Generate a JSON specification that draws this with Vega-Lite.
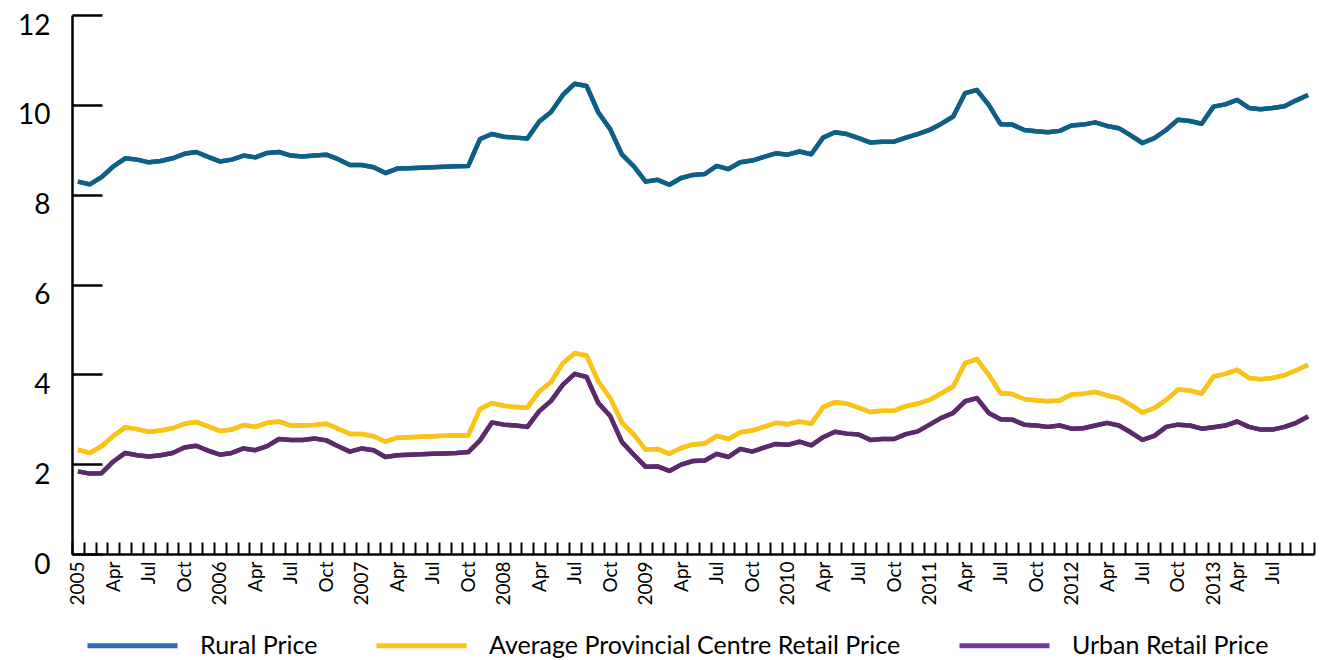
{
  "$schema": "https://vega.github.io/schema/vega-lite/v6.json",
  "width": 1242,
  "height": 539,
  "autosize": {"type": "none"},
  "padding": {"left": 72, "top": 15, "right": 6, "bottom": 106},
  "background": "white",
  "config": {
    "view": {"stroke": null},
    "font": "Lato",
    "axis": {"grid": false, "domainColor": "black", "tickColor": "black", "labelColor": "black", "labelFont": "Lato"}
  },
  "data": {
    "values": [
      {"m":"2005-01","R":8.29,"A":2.32,"U":1.84},
      {"m":"2005-02","R":8.23,"A":2.25,"U":1.79},
      {"m":"2005-03","R":8.39,"A":2.40,"U":1.80},
      {"m":"2005-04","R":8.63,"A":2.63,"U":2.06},
      {"m":"2005-05","R":8.81,"A":2.82,"U":2.25},
      {"m":"2005-06","R":8.78,"A":2.78,"U":2.20},
      {"m":"2005-07","R":8.72,"A":2.72,"U":2.17},
      {"m":"2005-08","R":8.75,"A":2.75,"U":2.20},
      {"m":"2005-09","R":8.81,"A":2.80,"U":2.25},
      {"m":"2005-10","R":8.91,"A":2.90,"U":2.37},
      {"m":"2005-11","R":8.95,"A":2.94,"U":2.41},
      {"m":"2005-12","R":8.84,"A":2.84,"U":2.30},
      {"m":"2006-01","R":8.74,"A":2.74,"U":2.21},
      {"m":"2006-02","R":8.78,"A":2.77,"U":2.25},
      {"m":"2006-03","R":8.87,"A":2.87,"U":2.35},
      {"m":"2006-04","R":8.83,"A":2.83,"U":2.31},
      {"m":"2006-05","R":8.93,"A":2.92,"U":2.40},
      {"m":"2006-06","R":8.95,"A":2.95,"U":2.56},
      {"m":"2006-07","R":8.87,"A":2.86,"U":2.54},
      {"m":"2006-08","R":8.85,"A":2.86,"U":2.54},
      {"m":"2006-09","R":8.87,"A":2.87,"U":2.57},
      {"m":"2006-10","R":8.89,"A":2.90,"U":2.53},
      {"m":"2006-11","R":8.79,"A":2.79,"U":2.40},
      {"m":"2006-12","R":8.66,"A":2.67,"U":2.28},
      {"m":"2007-01","R":8.66,"A":2.67,"U":2.35},
      {"m":"2007-02","R":8.61,"A":2.62,"U":2.31},
      {"m":"2007-03","R":8.48,"A":2.50,"U":2.16},
      {"m":"2007-04","R":8.58,"A":2.59,"U":2.20},
      {"m":"2007-05","R":8.59,"A":2.60,"U":2.21},
      {"m":"2007-06","R":8.60,"A":2.61,"U":2.22},
      {"m":"2007-07","R":8.61,"A":2.62,"U":2.23},
      {"m":"2007-08","R":8.62,"A":2.63,"U":2.24},
      {"m":"2007-09","R":8.63,"A":2.64,"U":2.25},
      {"m":"2007-10","R":8.64,"A":2.64,"U":2.27},
      {"m":"2007-11","R":9.24,"A":3.23,"U":2.53},
      {"m":"2007-12","R":9.35,"A":3.36,"U":2.93},
      {"m":"2008-01","R":9.29,"A":3.30,"U":2.88},
      {"m":"2008-02","R":9.27,"A":3.27,"U":2.86},
      {"m":"2008-03","R":9.25,"A":3.26,"U":2.83},
      {"m":"2008-04","R":9.63,"A":3.62,"U":3.18},
      {"m":"2008-05","R":9.84,"A":3.83,"U":3.41},
      {"m":"2008-06","R":10.22,"A":4.25,"U":3.77},
      {"m":"2008-07","R":10.47,"A":4.47,"U":4.01},
      {"m":"2008-08","R":10.42,"A":4.42,"U":3.94},
      {"m":"2008-09","R":9.83,"A":3.84,"U":3.36},
      {"m":"2008-10","R":9.46,"A":3.47,"U":3.07},
      {"m":"2008-11","R":8.89,"A":2.92,"U":2.49},
      {"m":"2008-12","R":8.63,"A":2.66,"U":2.21},
      {"m":"2009-01","R":8.29,"A":2.32,"U":1.94},
      {"m":"2009-02","R":8.33,"A":2.34,"U":1.95},
      {"m":"2009-03","R":8.22,"A":2.23,"U":1.85},
      {"m":"2009-04","R":8.37,"A":2.36,"U":1.99},
      {"m":"2009-05","R":8.44,"A":2.44,"U":2.07},
      {"m":"2009-06","R":8.46,"A":2.46,"U":2.08},
      {"m":"2009-07","R":8.64,"A":2.63,"U":2.23},
      {"m":"2009-08","R":8.57,"A":2.56,"U":2.16},
      {"m":"2009-09","R":8.72,"A":2.71,"U":2.34},
      {"m":"2009-10","R":8.76,"A":2.75,"U":2.28},
      {"m":"2009-11","R":8.84,"A":2.83,"U":2.37},
      {"m":"2009-12","R":8.92,"A":2.92,"U":2.45},
      {"m":"2010-01","R":8.89,"A":2.89,"U":2.43},
      {"m":"2010-02","R":8.96,"A":2.95,"U":2.50},
      {"m":"2010-03","R":8.90,"A":2.90,"U":2.42},
      {"m":"2010-04","R":9.27,"A":3.27,"U":2.60},
      {"m":"2010-05","R":9.39,"A":3.38,"U":2.72},
      {"m":"2010-06","R":9.35,"A":3.35,"U":2.68},
      {"m":"2010-07","R":9.26,"A":3.26,"U":2.66},
      {"m":"2010-08","R":9.16,"A":3.16,"U":2.54},
      {"m":"2010-09","R":9.18,"A":3.19,"U":2.56},
      {"m":"2010-10","R":9.18,"A":3.19,"U":2.56},
      {"m":"2010-11","R":9.27,"A":3.29,"U":2.67},
      {"m":"2010-12","R":9.35,"A":3.35,"U":2.73},
      {"m":"2011-01","R":9.44,"A":3.43,"U":2.88},
      {"m":"2011-02","R":9.58,"A":3.58,"U":3.03},
      {"m":"2011-03","R":9.74,"A":3.73,"U":3.14},
      {"m":"2011-04","R":10.26,"A":4.25,"U":3.40},
      {"m":"2011-05","R":10.33,"A":4.34,"U":3.47},
      {"m":"2011-06","R":10.00,"A":3.99,"U":3.14},
      {"m":"2011-07","R":9.57,"A":3.58,"U":3.00},
      {"m":"2011-08","R":9.56,"A":3.56,"U":2.99},
      {"m":"2011-09","R":9.44,"A":3.45,"U":2.88},
      {"m":"2011-10","R":9.41,"A":3.42,"U":2.86},
      {"m":"2011-11","R":9.39,"A":3.40,"U":2.83},
      {"m":"2011-12","R":9.42,"A":3.42,"U":2.86},
      {"m":"2012-01","R":9.54,"A":3.55,"U":2.79},
      {"m":"2012-02","R":9.56,"A":3.57,"U":2.80},
      {"m":"2012-03","R":9.61,"A":3.61,"U":2.86},
      {"m":"2012-04","R":9.53,"A":3.53,"U":2.92},
      {"m":"2012-05","R":9.48,"A":3.47,"U":2.86},
      {"m":"2012-06","R":9.32,"A":3.32,"U":2.71},
      {"m":"2012-07","R":9.15,"A":3.15,"U":2.54},
      {"m":"2012-08","R":9.26,"A":3.25,"U":2.63},
      {"m":"2012-09","R":9.44,"A":3.43,"U":2.83},
      {"m":"2012-10","R":9.67,"A":3.66,"U":2.88},
      {"m":"2012-11","R":9.64,"A":3.64,"U":2.86},
      {"m":"2012-12","R":9.58,"A":3.57,"U":2.79},
      {"m":"2013-01","R":9.96,"A":3.95,"U":2.82},
      {"m":"2013-03","R":10.01,"A":4.01,"U":2.86},
      {"m":"2013-04","R":10.11,"A":4.10,"U":2.95},
      {"m":"2013-05","R":9.93,"A":3.92,"U":2.83},
      {"m":"2013-06","R":9.90,"A":3.89,"U":2.77},
      {"m":"2013-07","R":9.93,"A":3.92,"U":2.77},
      {"m":"2013-08","R":9.97,"A":3.98,"U":2.83},
      {"m":"2013-09","R":10.10,"A":4.09,"U":2.92},
      {"m":"2013-10","R":10.22,"A":4.21,"U":3.06}
    ]
  },
  "transform": [{"fold": ["R", "A", "U"], "as": ["series", "price"]}],
  "encoding": {
    "x": {
      "field": "m",
      "type": "ordinal",
      "scale": {"type": "band", "paddingInner": 0, "paddingOuter": 0},
      "axis": {
        "title": null,
        "domainWidth": 2.5,
        "tickBand": "extent",
        "tickSize": -12,
        "tickWidth": 2,
        "labelAngle": -90,
        "labelFontSize": 19,
        "labelPadding": 19,
        "labelOverlap": false,
        "labelExpr": "datum.value=='2013-10' ? '' : substring(datum.value,5,7)=='01' ? substring(datum.value,0,4) : substring(datum.value,5,7)=='04' ? 'Apr' : substring(datum.value,5,7)=='07' ? 'Jul' : substring(datum.value,5,7)=='10' ? 'Oct' : ''"
      }
    },
    "y": {
      "field": "price",
      "type": "quantitative",
      "scale": {"domain": [0, 12], "nice": false},
      "axis": {
        "title": null,
        "values": [0, 2, 4, 6, 8, 10, 12],
        "domainWidth": 2.5,
        "tickSize": -30,
        "tickWidth": 2.5,
        "labelFontSize": 28,
        "labelPadding": 52,
        "labelOffset": 11
      }
    }
  },
  "layer": [
    {
      "mark": {"type": "line", "strokeWidth": 4.5, "strokeJoin": "round"},
      "encoding": {
        "color": {
          "field": "series",
          "type": "nominal",
          "scale": {"domain": ["R", "A", "U"], "range": ["#2f67b1", "#f7c511", "#6b3a9c"]},
          "legend": {
            "title": null,
            "orient": "none",
            "legendX": 13,
            "legendY": 583,
            "direction": "horizontal",
            "columns": 3,
            "columnPadding": 48,
            "symbolType": "stroke",
            "symbolSize": 8100,
            "symbolStrokeWidth": 5,
            "labelFontSize": 25,
            "labelFont": "Lato",
            "labelColor": "black",
            "labelOffset": 20,
            "padding": 0,
            "labelLimit": 700,
            "labelExpr": "datum.label=='R' ? 'Rural Price' : datum.label=='A' ? 'Average Provincial Centre Retail Price' : 'Urban Retail Price'"
          }
        }
      }
    },
    {
      "mark": {"type": "line", "strokeWidth": 4.5, "strokeJoin": "round"},
      "encoding": {
        "stroke": {
          "field": "series",
          "type": "nominal",
          "scale": {"domain": ["R", "A", "U"], "range": ["#0d5f83", "#f9c31a", "#5b2a6b"]},
          "legend": null
        }
      }
    }
  ]
}
